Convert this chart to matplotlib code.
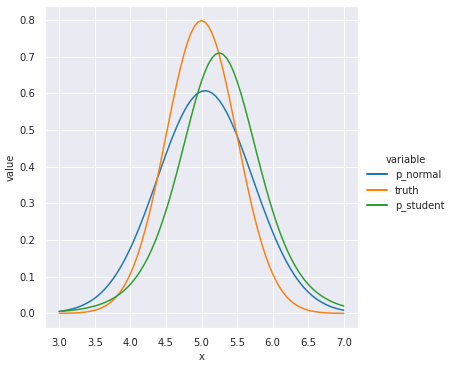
import numpy as np
import pandas as pd
import seaborn as sns
import matplotlib
matplotlib.use("Agg")
import matplotlib.pyplot as plt

# -------------------------------
# Data (step 0.05)
# -------------------------------
x = [3.00, 3.05, 3.10, 3.15, 3.20, 3.25, 3.30, 3.35, 3.40, 3.45,
     3.50, 3.55, 3.60, 3.65, 3.70, 3.75, 3.80, 3.85, 3.90, 3.95,
     4.00, 4.05, 4.10, 4.15, 4.20, 4.25, 4.30, 4.35, 4.40, 4.45,
     4.50, 4.55, 4.60, 4.65, 4.70, 4.75, 4.80, 4.85, 4.90, 4.95,
     5.00, 5.05, 5.10, 5.15, 5.20, 5.25, 5.30, 5.35, 5.40, 5.45,
     5.50, 5.55, 5.60, 5.65, 5.70, 5.75, 5.80, 5.85, 5.90, 5.95,
     6.00, 6.05, 6.10, 6.15, 6.20, 6.25, 6.30, 6.35, 6.40, 6.45,
     6.50, 6.55, 6.60, 6.65, 6.70, 6.75, 6.80, 6.85, 6.90, 6.95, 7.00]

p_normal = [0.0056, 0.0071, 0.0088, 0.0109, 0.0134, 0.0164, 0.0200, 0.0243, 0.0293, 0.0351,
            0.0418, 0.0495, 0.0583, 0.0684, 0.0797, 0.0924, 0.1065, 0.1221, 0.1391, 0.1577,
            0.1778, 0.1993, 0.2222, 0.2463, 0.2715, 0.2976, 0.3244, 0.3517, 0.3791, 0.4065,
            0.4334, 0.4595, 0.4844, 0.5079, 0.5296, 0.5491, 0.5662, 0.5806, 0.5919, 0.6003,
            0.6053, 0.6070, 0.6053, 0.6003, 0.5919, 0.5806, 0.5662, 0.5491, 0.5296, 0.5079,
            0.4844, 0.4595, 0.4334, 0.4065, 0.3791, 0.3517, 0.3244, 0.2976, 0.2715, 0.2463,
            0.2222, 0.1993, 0.1778, 0.1577, 0.1391, 0.1221, 0.1065, 0.0924, 0.0797, 0.0684,
            0.0583, 0.0495, 0.0418, 0.0351, 0.0293, 0.0243, 0.0200, 0.0164, 0.0134, 0.0109, 0.0088]

truth = [0.0003, 0.0004, 0.0006, 0.0009, 0.0012, 0.0017, 0.0025, 0.0034, 0.0048, 0.0065,
         0.0089, 0.0119, 0.0158, 0.0208, 0.0271, 0.0350, 0.0448, 0.0567, 0.0709, 0.0880,
         0.1080, 0.1312, 0.1580, 0.1881, 0.2220, 0.2591, 0.2990, 0.3428, 0.3880, 0.4357,
         0.4840, 0.5320, 0.5790, 0.6245, 0.6660, 0.7040, 0.7370, 0.7630, 0.7820, 0.7940,
         0.7980, 0.7940, 0.7820, 0.7630, 0.7370, 0.7040, 0.6660, 0.6245, 0.5790, 0.5320,
         0.4840, 0.4357, 0.3880, 0.3428, 0.2990, 0.2591, 0.2220, 0.1881, 0.1580, 0.1312,
         0.1080, 0.0880, 0.0709, 0.0567, 0.0448, 0.0350, 0.0271, 0.0208, 0.0158, 0.0119,
         0.0089, 0.0065, 0.0048, 0.0034, 0.0025, 0.0017, 0.0012, 0.0009, 0.0006, 0.0004, 0.0003]

p_student = [0.0056, 0.0063, 0.0072, 0.0081, 0.0093, 0.0105, 0.0120, 0.0137, 0.0157, 0.0179,
             0.0204, 0.0234, 0.0268, 0.0307, 0.0352, 0.0403, 0.0462, 0.0530, 0.0607, 0.0695,
             0.0796, 0.0910, 0.1040, 0.1187, 0.1352, 0.1537, 0.1743, 0.1972, 0.2224, 0.2499,
             0.2798, 0.3118, 0.3459, 0.3818, 0.4189, 0.4569, 0.4950, 0.5325, 0.5686, 0.6024,
             0.6330, 0.6594, 0.6810, 0.6969, 0.7067, 0.7100, 0.7067, 0.6969, 0.6810, 0.6594,
             0.6330, 0.6024, 0.5686, 0.5325, 0.4950, 0.4569, 0.4189, 0.3818, 0.3459, 0.3118,
             0.2798, 0.2499, 0.2224, 0.1972, 0.1743, 0.1537, 0.1352, 0.1187, 0.1040, 0.0910,
             0.0796, 0.0695, 0.0607, 0.0530, 0.0462, 0.0403, 0.0352, 0.0307, 0.0268, 0.0234, 0.0204]

names = ["p_normal", "truth", "p_student"]

df = pd.DataFrame({"x": x, "p_normal": p_normal, "truth": truth, "p_student": p_student})
long_df = df.melt(id_vars="x", var_name="variable", value_name="value")

# -------------------------------
# Plot
# -------------------------------
sns.set_theme(style="darkgrid", palette="tab10")
plt.rcParams.update({
    "font.size": 10,
    "axes.labelsize": 10,
    "xtick.labelsize": 10,
    "ytick.labelsize": 10,
    "legend.fontsize": 10,
    "legend.title_fontsize": 10,
})

fig = plt.figure(figsize=(450 / 72, 366 / 72), dpi=72)
ax = fig.add_axes([45 / 450, 1 - 328 / 366, 313 / 450, 322 / 366])

palette = sns.color_palette("tab10")
sns.lineplot(data=long_df, x="x", y="value", hue="variable", hue_order=names,
             palette=palette[:3], ax=ax, legend=False)

ax.set_xticks(np.arange(3.0, 7.01, 0.5))
ax.set_yticks(np.arange(0.0, 0.81, 0.1))

handles = [plt.Line2D([], [], color=palette[i], lw=2.0) for i in range(len(names))]
fig.legend(handles, names, title="variable", loc="center left",
           bbox_to_anchor=(358 / 450, 0.5), frameon=False)

fig.savefig("out.png", dpi=72)
